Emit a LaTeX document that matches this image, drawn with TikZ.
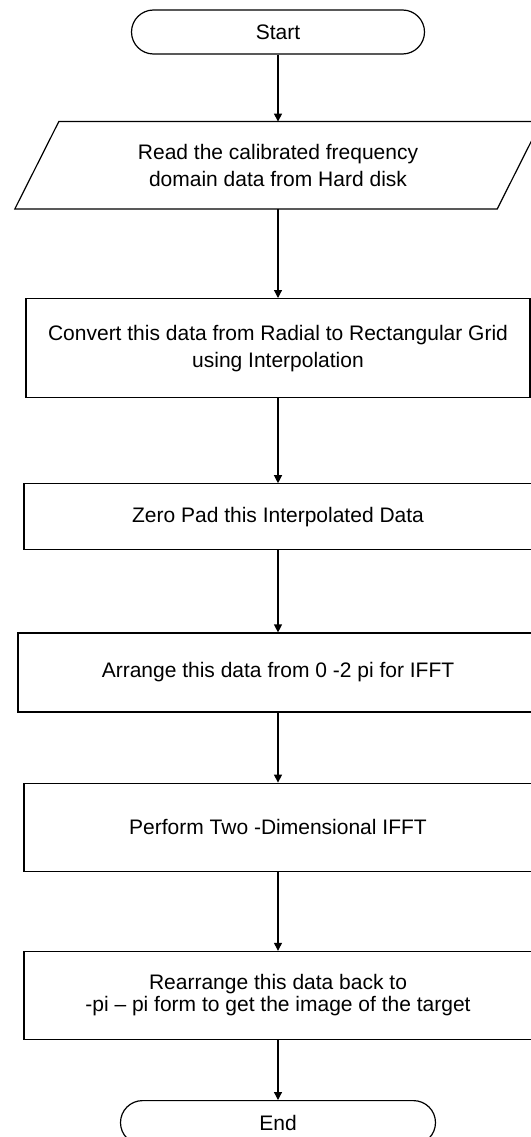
\documentclass[tikz,border=0pt]{standalone}
\usepackage{fontspec}
\setmainfont{Liberation Sans}
\usetikzlibrary{arrows.meta, positioning, calc}
\tikzset{
  terminal/.style={draw, rounded corners=22pt, line width=1.2pt, align=center, minimum height=44pt, inner sep=0pt},
  block/.style={draw, line width=1.2pt, align=center, minimum height=88pt, inner sep=0pt},
  io/.style={align=center, minimum width=482pt, minimum height=87pt, inner sep=0pt},
  arrow/.style={-{Triangle[length=8pt, width=8pt]}, line width=1.2pt},
  every node/.style={font=\fontsize{21}{27}\selectfont}
}

\begin{document}
\begin{tikzpicture}[x=1pt, y=-1pt]
    \useasboundingbox (0,0) rectangle (530,1137);
    \node[terminal, minimum width=293pt] (start) at (278,32) {Start};
    \node[io, below=67pt of start] (read) {Read the calibrated frequency\\domain data from Hard disk};
    \draw[line width=1.2pt] ($(read.north west)+(22,0)$) -- ($(read.north east)+(22,0)$)
        -- ($(read.south east)+(-22,0)$) -- ($(read.south west)+(-22,0)$) -- cycle;
    \node[block, below=89pt of read, minimum width=504pt, minimum height=99pt] (convert) {Convert this data from Radial to Rectangular Grid\\using Interpolation};
    \node[block, below=85pt of convert, minimum width=508pt, minimum height=66pt] (zeropad) {Zero Pad this Interpolated Data};
    \node[block, below=82pt of zeropad, minimum width=520pt, minimum height=79pt] (arrange) {Arrange this data from 0 -2 pi for IFFT};
    \node[block, below=70pt of arrange, minimum width=508pt] (perform) {Perform Two -Dimensional IFFT};
    \node[block, below=79pt of perform, minimum width=508pt] (rearr) {Rearrange this data back to\\[-5pt]-pi -- pi form to get the image of the target};
    \node[terminal, below=60pt of rearr, minimum width=315pt] (end) {End};

    \draw[arrow] (start) -- (read);
    \draw[arrow] (read) -- (convert);
    \draw[arrow] (convert) -- (zeropad);
    \draw[arrow] (zeropad) -- (arrange);
    \draw[arrow] (arrange) -- (perform);
    \draw[arrow] (perform) -- (rearr);
    \draw[arrow] (rearr) -- (end);
\end{tikzpicture}
\end{document}
